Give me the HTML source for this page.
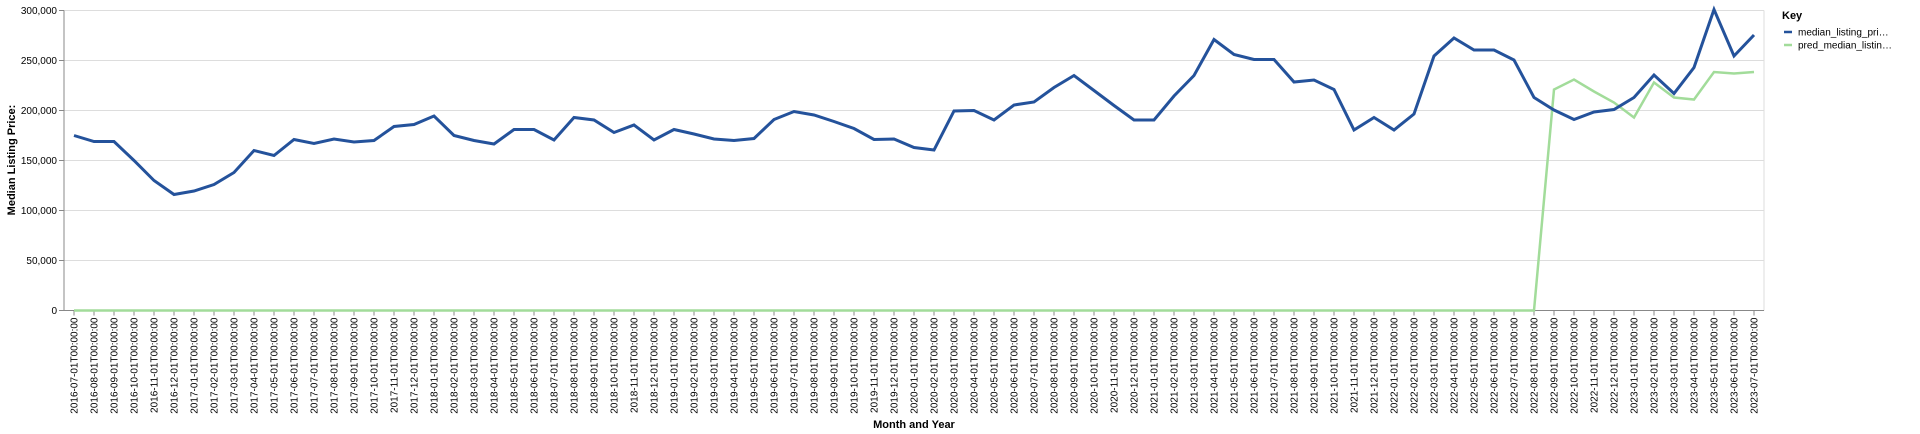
<!DOCTYPE html>
<html><head><meta charset="utf-8"><style>
html,body{margin:0;padding:0;background:#fff;}
svg{display:block;font-family:"Liberation Sans",Arial,sans-serif;}
</style></head><body>
<svg id="chart" width="1920" height="434" viewBox="0 0 1920 434" xmlns="http://www.w3.org/2000/svg"></svg>
<script>
const yTicks=[0,50000,100000,150000,200000,250000,300000];
const actualValues=[175000,169000,169000,150000,130000,116000,119500,126000,138000,160000,155000,171000,167000,171500,168500,170000,184000,186000,194500,175000,170000,166500,181000,181000,170500,193000,190500,178000,185500,170500,181000,176500,171500,170000,172000,191000,199000,195500,189000,182000,171000,171500,163000,160500,199500,200000,190500,205500,208500,223000,235000,220000,205000,190500,190500,214500,235000,271000,256000,251000,251000,228500,230500,221000,180500,193000,180500,196500,254500,272500,260500,260500,250500,213000,200500,191000,198500,201000,213000,235500,217000,243000,301000,254500,275500];
const predValues=[0,0,0,0,0,0,0,0,0,0,0,0,0,0,0,0,0,0,0,0,0,0,0,0,0,0,0,0,0,0,0,0,0,0,0,0,0,0,0,0,0,0,0,0,0,0,0,0,0,0,0,0,0,0,0,0,0,0,0,0,0,0,0,0,0,0,0,0,0,0,0,0,0,0,221000,231000,219000,208000,193000,228000,213000,211000,238500,237000,238500];
const startYear=2016, startMonth=7;
const categories=[];
for(let k=0;k<actualValues.length;k++){const m=startMonth-1+k;const yy=startYear+Math.floor(m/12);const mm=(m%12)+1;categories.push(yy+'-'+String(mm).padStart(2,'0')+'-01T00:00:00');}

const NS='http://www.w3.org/2000/svg';
const svg=document.getElementById('chart');
const L=64,R=1764,T=10.5,B=310.5;
const step=(R-L)/categories.length;
const x=i=>L+step*(i+0.5);
const y=v=>B-(v/300000)*(B-T);
function mk(tag,attrs,parent){const e=document.createElementNS(NS,tag);for(const k in attrs)e.setAttribute(k,attrs[k]);(parent||svg).appendChild(e);return e;}

const grid=mk('g',{});


const yAxis=mk('g',{});


yTicks.forEach(v=>{
  const gl=mk('line',{x1:L,x2:R,y1:y(v),y2:y(v),stroke:'#ddd','stroke-width':1},grid);
  
  
  mk('line',{x1:L-5,x2:L,y1:y(v),y2:y(v),stroke:'#888'},yAxis);
  const t=mk('text',{x:L-7,y:y(v)+3.5,'text-anchor':'end','font-size':10,fill:'#000'},yAxis);
  t.textContent=v.toLocaleString('en-US');
  
  
});
mk('line',{x1:L,x2:L,y1:T,y2:B,stroke:'#888'},yAxis);
mk('line',{x1:R,x2:R,y1:T,y2:B,stroke:'#ddd'},grid);
const yt=mk('text',{x:0,y:0,transform:'translate(15,160) rotate(-90)','text-anchor':'middle','font-size':11,'font-weight':'bold',fill:'#000'});
yt.textContent='Median Listing Price:';



const xAxis=mk('g',{});


mk('line',{x1:L,x2:R,y1:B,y2:B,stroke:'#888'},xAxis);
categories.forEach((c,i)=>{
  mk('line',{x1:x(i),x2:x(i),y1:B,y2:B+5,stroke:'#888'},xAxis);
  const t=mk('text',{transform:`translate(${x(i)+3.5},${B+7}) rotate(-90)`,'text-anchor':'end','font-size':10,fill:'#000'},xAxis);
  t.textContent=c;
  
  
});
const xt=mk('text',{x:(L+R)/2,y:428,'text-anchor':'middle','font-size':11,'font-weight':'bold',fill:'#000'});
xt.textContent='Month and Year';



function pathOf(vals){return vals.map((v,i)=>(i?'L':'M')+x(i).toFixed(2)+','+y(v).toFixed(2)).join('');}
const pl=mk('path',{d:pathOf(predValues),fill:'none',stroke:'#a2dc9a','stroke-width':2.5,'stroke-linejoin':'miter'});


const al=mk('path',{d:pathOf(actualValues),fill:'none',stroke:'#24529b','stroke-width':3,'stroke-linejoin':'miter'});



const lg=mk('g',{});


const kt=mk('text',{x:1782,y:19,'font-size':11,'font-weight':'bold',fill:'#000'},lg);
kt.textContent='Key';


[['median_listing_pri…','#24529b',32],['pred_median_listin…','#a2dc9a',45]].forEach(([lab,col,cy])=>{
  const e=mk('g',{},lg);
  
  
  mk('line',{x1:1784,x2:1792,y1:cy,y2:cy,stroke:col,'stroke-width':2.5},e);
  const t=mk('text',{x:1798,y:cy+3.5,'font-size':10,fill:'#000'},e);
  t.textContent=lab;
});
</script>
</body></html>
